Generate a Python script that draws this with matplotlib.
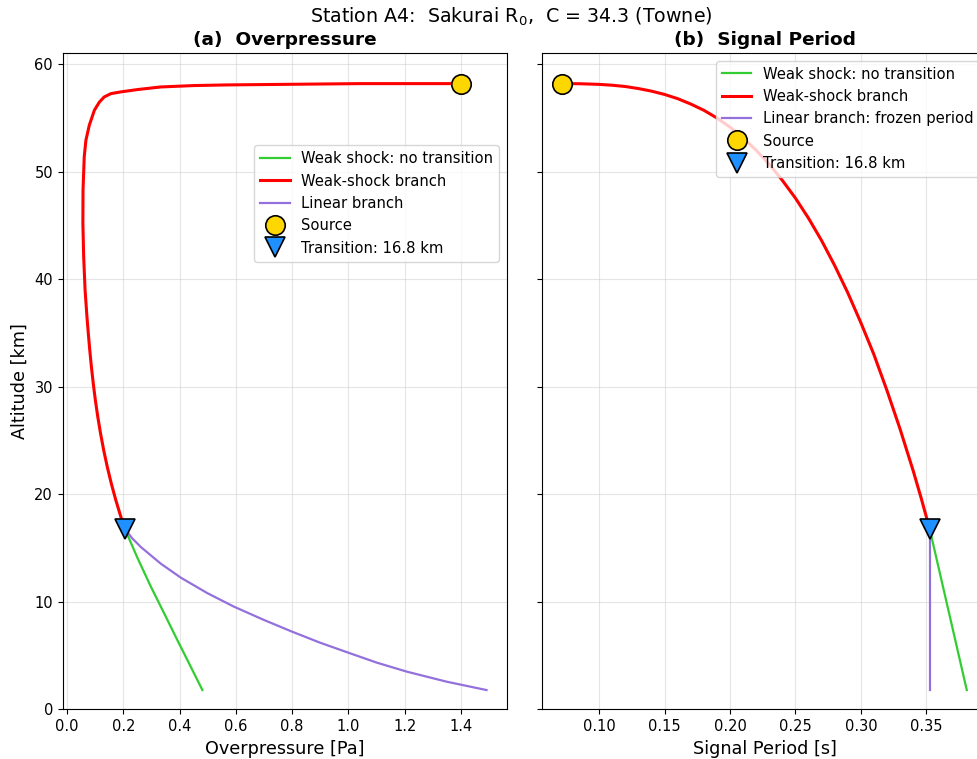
import numpy as np
import matplotlib
matplotlib.use('Agg')
import matplotlib.pyplot as plt

# --- values -----------------------------------------------------------------
# (a) overpressure [Pa] vs altitude [km]
op_weak_x = [1.40, 1.042, 0.806, 0.570, 0.451, 0.333, 0.251, 0.191, 0.156,
             0.132, 0.115, 0.097, 0.079, 0.067, 0.061, 0.0567, 0.0562, 0.059,
             0.064, 0.0707, 0.0755, 0.0807, 0.0865, 0.0931, 0.1005, 0.1092,
             0.119, 0.1302, 0.1428, 0.1572, 0.1732, 0.1912, 0.205]
op_weak_z = [58.2, 58.2, 58.14, 58.08, 58.02, 57.89, 57.65, 57.43, 57.27,
             56.96, 56.49, 55.72, 54.33, 52.94, 51.4, 48.3, 45.2, 42.1,
             39.0, 36.5, 34.96, 33.4, 31.85, 30.3, 28.76, 27.2,
             25.66, 24.1, 22.56, 21.0, 19.46, 17.9, 16.8]
op_lin_x = [0.205, 0.230, 0.262, 0.333, 0.404, 0.499, 0.593, 0.699, 0.800,
            0.900, 1.007, 1.101, 1.208, 1.349, 1.491]
op_lin_z = [16.8, 15.95, 15.1, 13.55, 12.25, 10.8, 9.55, 8.32, 7.22,
            6.19, 5.2, 4.34, 3.50, 2.57, 1.79]
op_notr_x = [0.205, 0.251, 0.298, 0.345, 0.392, 0.4396, 0.481]
op_notr_z = [16.8, 14.04, 11.4, 8.93, 6.44, 3.96, 1.79]

# (b) signal period [s] vs altitude [km]
T_weak_x = [0.0717, 0.085, 0.095, 0.10, 0.11, 0.12, 0.13, 0.14, 0.15, 0.16,
            0.17, 0.18, 0.19, 0.20, 0.21, 0.22, 0.23, 0.24, 0.25, 0.26,
            0.27, 0.28, 0.29, 0.30, 0.31, 0.32, 0.33, 0.34, 0.346, 0.3526]
T_weak_z = [58.2, 58.19, 58.15, 58.13, 58.05, 57.93, 57.74, 57.5, 57.19, 56.8,
            56.3, 55.72, 55.0, 54.15, 53.15, 52.0, 50.7, 49.2, 47.55, 45.68,
            43.6, 41.28, 38.75, 35.97, 33.0, 29.65, 26.07, 22.2, 19.7, 16.8]
T_lin_x = [0.3526, 0.3526]
T_lin_z = [16.8, 1.79]
T_notr_x = [0.3526, 0.381]
T_notr_z = [16.8, 1.79]

src_z = 58.2
z_trans = 16.8

# --- figure -------------------------------------------------------------------
fig = plt.figure(figsize=(9.77, 7.59), dpi=100)
ax1 = fig.add_axes([62.7/977, 1 - 709.3/759, 444/977, 656/759])
ax2 = fig.add_axes([542/977, 1 - 709.3/759, 445/977, 656/759], sharey=ax1)

green = '#32CD32'
red = 'red'
purple = '#9370DB'

for ax, wx, wz, lx, lz, nx, nz, lin_lab in [
        (ax1, op_weak_x, op_weak_z, op_lin_x, op_lin_z, op_notr_x, op_notr_z,
         'Linear branch'),
        (ax2, T_weak_x, T_weak_z, T_lin_x, T_lin_z, T_notr_x, T_notr_z,
         'Linear branch: frozen period')]:
    ax.plot(nx, nz, color=green, lw=1.6, label='Weak shock: no transition')
    ax.plot(wx, wz, color=red, lw=2.2, label='Weak-shock branch')
    ax.plot(lx, lz, color=purple, lw=1.6, label=lin_lab)
    ax.plot(wx[0], src_z, 'o', ms=14, mfc='#FFD700', mec='black', mew=1.2,
            ls='none', zorder=5, label='Source')
    ax.plot(wx[-1], z_trans, 'v', ms=14, mfc='#1E90FF', mec='black', mew=1.2,
            ls='none', zorder=6, label='Transition: %.1f km' % z_trans)
    ax.grid(True, color='#cccccc', alpha=0.5, lw=0.8)
    ax.tick_params(labelsize=10.5)

ax1.set_ylim(bottom=0)
ax1.set_xlabel('Overpressure [Pa]', fontsize=12.7)
ax1.set_ylabel('Altitude [km]', fontsize=12.7)
ax1.set_title('(a)  Overpressure', fontsize=13.3, fontweight='bold')
ax1.legend(loc='upper right', bbox_to_anchor=(1.0, 0.871), fontsize=10.6)

ax2.set_xlabel('Signal Period [s]', fontsize=12.7)
ax2.set_title('(b)  Signal Period', fontsize=13.3, fontweight='bold')
ax2.tick_params(labelleft=False)
ax2.legend(loc='upper right', fontsize=10.6)

fig.suptitle('Station A4:  Sakurai R$_0$,  C = 34.3 (Towne)', fontsize=13.7,
             x=0.523, y=0.992)

fig.savefig('out.png', dpi=100)
